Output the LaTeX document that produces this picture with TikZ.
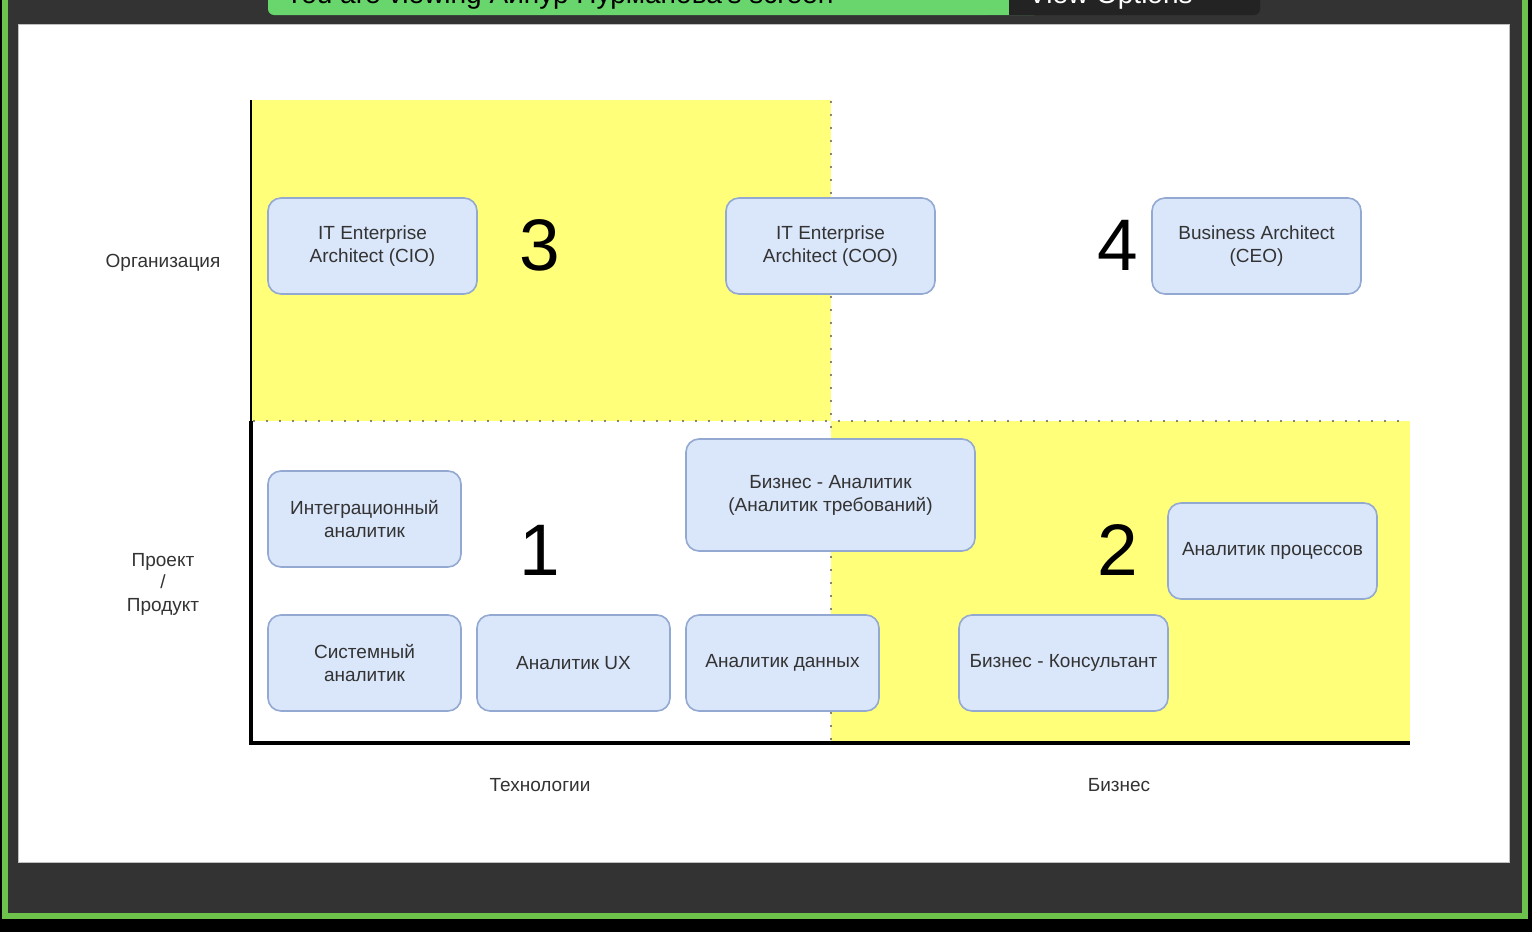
\documentclass[tikz,border=0pt]{standalone}
\usepackage{fontspec}
\setmainfont{Liberation Sans}
\definecolor{frameDark}{HTML}{333333}
\definecolor{zoomGreen}{HTML}{6CC24A}
\definecolor{tabGreen}{HTML}{68D66C}
\definecolor{tabDark}{HTML}{232323}
\definecolor{quadYellow}{HTML}{FFFF7A}
\definecolor{boxFill}{HTML}{DAE6FA}
\definecolor{boxLine}{HTML}{93A9D2}
\definecolor{txt}{HTML}{333333}
\definecolor{dotGray}{HTML}{5A5A5A}
\tikzset{
  rolebox/.style={draw=boxLine, fill=boxFill, rounded corners=13pt, line width=1.6pt,
    align=center, text=txt, inner sep=0pt, font=\fontsize{19}{23}\selectfont},
  axislabel/.style={align=center, text=txt, inner sep=0pt, font=\fontsize{19}{22.5}\selectfont},
  bignum/.style={inner sep=0pt, text=black, font=\fontsize{73}{73}\selectfont},
  dotline/.style={draw=dotGray, line width=2.4pt, line cap=round, dash pattern=on 0pt off 13pt},
}
\begin{document}
\begin{tikzpicture}[x=1pt,y=-1pt]
\useasboundingbox (0,0) rectangle (1532,932);
\begin{scope}
\clip (0,0) rectangle (1532,932);
% zoom frame
\fill[black] (0,0) rectangle (1532,932);
\fill[zoomGreen] (2,-5) rectangle (1528,919);
\fill[frameDark] (8,-5) rectangle (1522,913);
% top tabs
\fill[tabGreen, rounded corners=6pt] (268,-20) rectangle (1040,15);
\fill[tabGreen] (268,-20) rectangle (1009,5);
\fill[tabDark, rounded corners=6pt] (980,-20) rectangle (1260,15);
\fill[tabDark] (1009,-20) rectangle (1100,15);
\fill[tabGreen] (980,-20) rectangle (1009,15);
\node[anchor=base west, inner sep=0pt, text=black, font=\fontsize{28}{28}\selectfont] (tabtext) at (285,3) {You are viewing Айнур Нурманова's screen};
\node[anchor=base west, inner sep=0pt, text=white, font=\fontsize{28}{28}\selectfont] (viewopt) at (1028,3) {View Options};
\end{scope}
% canvas
\fill[white] (18,24) rectangle (1509,862);
\draw[gray!50, line width=0.8pt] (18,24) rectangle (1509,862);
% quadrants
\fill[quadYellow] (251,100) rectangle (831,421);
\fill[quadYellow] (831,421) rectangle (1410,743);
% dotted separators
\coordinate (hl) at (254,421);
\coordinate (hr) at (1410,421);
\coordinate (vt) at (831,102);
\coordinate (vb) at (831,743);
\draw[dotline] (hl) -- (hr);
\draw[dotline] (vt) -- (vb);
% axes
\coordinate (otop) at (251,100);
\coordinate (orig) at (251,743);
\coordinate (oright) at (1410,743);
\draw[black, line width=1.4pt] (otop) -- (251,421);
\draw[black, line width=3.2pt] (251,421) -- (orig) -- (oright);
% role boxes
\node[rolebox, minimum width=209pt, minimum height=96pt] (cio) at (372.5,246) {IT Enterprise\\Architect (CIO)};
\node[rolebox, minimum width=209pt, minimum height=96pt] (coo) at (830.5,246) {IT Enterprise\\Architect (COO)};
\node[rolebox, minimum width=209pt, minimum height=96pt] (ceo) at (1256.5,246) {Business Architect\\(CEO)};
\node[rolebox, minimum width=289pt, minimum height=112pt] (ba) at (830.5,495) {Бизнес - Аналитик\\(Аналитик требований)};
\node[rolebox, minimum width=193pt, minimum height=96pt] (integ) at (364.5,519) {Интеграционный\\аналитик};
\node[rolebox, minimum width=209pt, minimum height=96pt] (proc) at (1272.5,551) {Аналитик процессов};
\node[rolebox, minimum width=193pt, minimum height=96pt] (sys) at (364.5,663) {Системный\\аналитик};
\node[rolebox, minimum width=193pt, minimum height=96pt] (ux) at (573.5,663) {Аналитик UX};
\node[rolebox, minimum width=193pt, minimum height=96pt] (data) at (782.5,663) {Аналитик данных};
\node[rolebox, minimum width=209pt, minimum height=96pt] (cons) at (1063.5,663) {Бизнес - Консультант};
% quadrant numbers
\node[bignum] (n3) at (540,245) {3};
\node[bignum] (n4) at (1118,245) {4};
\node[bignum] (n1) at (540,550) {1};
\node[bignum] (n2) at (1118,550) {2};
% axis labels
\node[axislabel] (org) at (163,263) {Организация};
\node[axislabel] (proj) at (163,584) {Проект\\/\\Продукт};
\node[axislabel] (tech) at (540,785) {Технологии};
\node[axislabel] (biz) at (1119,785) {Бизнес};
\end{tikzpicture}
\end{document}
